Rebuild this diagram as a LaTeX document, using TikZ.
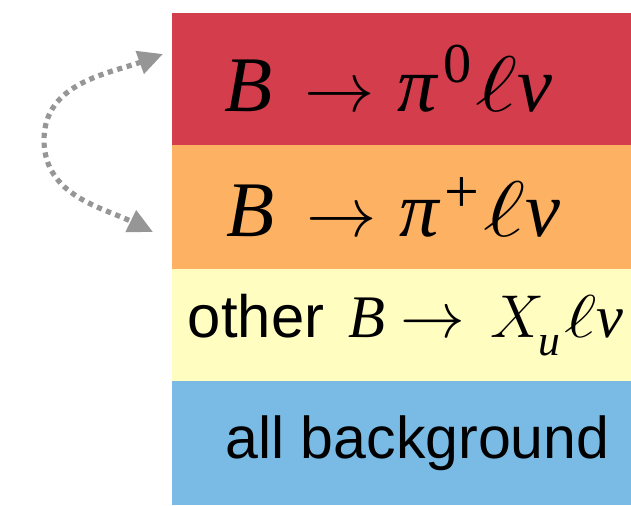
\documentclass[tikz,border=0pt]{standalone}
\usepackage{fix-cm}
\usepackage{fontspec}
\setmainfont{Liberation Serif}
\newfontfamily\helv{Liberation Sans}
\usetikzlibrary{positioning,arrows.meta}
\definecolor{DRed}{HTML}{D33D4C}
\definecolor{DOrange}{HTML}{FDB163}
\definecolor{DYellow}{HTML}{FFFDC0}
\definecolor{DBlue}{HTML}{79BBE4}
\definecolor{DGray}{HTML}{969696}
\newcommand{\decarrow}[1]{\mbox{\fontsize{#1}{#1}\selectfont$\rightarrow$}}
\newcommand{\lepton}[1]{\scalebox{1.3}[1]{\fontsize{#1}{#1}\selectfont$\ell$}}
\tikzset{band/.style={inner sep=0pt,outer sep=0pt,minimum width=11.475cm,anchor=north west}}

\begin{document}
\begin{tikzpicture}[x=1cm,y=1cm]
\path[use as bounding box] (0,0) rectangle (15.775,12.625);
\node[band,fill=DRed,minimum height=3.30cm] (pizero) at (4.30,12.30)
  {\fontsize{56}{60}\selectfont\textit{B}\hspace{23pt}\decarrow{50}\hspace{16pt}\textit{π}\hspace{3pt}\raisebox{20.5pt}{\fontsize{40}{42}\selectfont 0}\hspace{3pt}\lepton{56}\textit{ν}\hspace*{0.65cm}};
\node[band,fill=DOrange,minimum height=3.10cm,below=0pt of pizero] (piplus)
  {\fontsize{56}{60}\selectfont\textit{B}\hspace{23pt}\decarrow{50}\hspace{16pt}\textit{π}\hspace{3pt}\raisebox{17pt}{\fontsize{44}{46}\selectfont +}\hspace{3pt}\lepton{56}\textit{ν}\hspace*{0.4cm}};
\node[band,fill=DYellow,minimum height=2.80cm,below=0pt of piplus] (xu)
  {\hspace*{0.22cm}{\helv\fontsize{42.5}{46}\selectfont other}\hspace{17pt}\fontsize{43}{46}\selectfont\textit{B}\hspace{11pt}\decarrow{46}\hspace{18pt}$X$\hspace{-4pt}\raisebox{-12.8pt}{\fontsize{31}{34}\selectfont\textit{u}}\hspace{3pt}\lepton{43}\textit{ν}};
\node[band,fill=DBlue,minimum height=3.10cm,below=0pt of xu] (bkg)
  {\hspace*{0.8cm}\helv\fontsize{42}{46}\selectfont all background};
% swap arrow
\coordinate (zeroend) at ([xshift=-0.225cm,yshift=0.625cm]pizero.west);
\coordinate (turn) at (1.1,9.125);
\coordinate (plusend) at ([xshift=-0.475cm,yshift=-0.625cm]piplus.west);
\draw[DGray,line width=3.7pt,dash pattern=on 3.7pt off 3.3pt,
  {Triangle[length=0.62cm,width=0.58cm]}-{Triangle[length=0.62cm,width=0.58cm]}]
  (zeroend) to[out=200,in=90] (turn) to[out=-90,in=154] (plusend);
\end{tikzpicture}
\end{document}
